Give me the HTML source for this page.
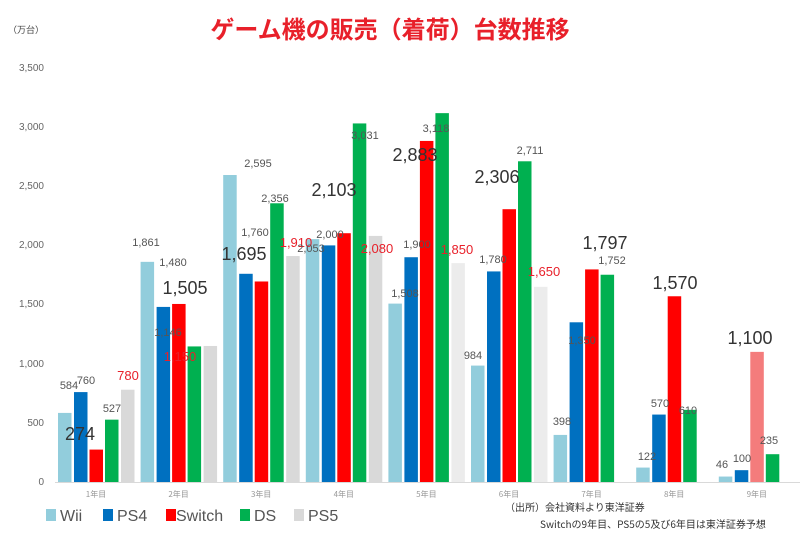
<!DOCTYPE html>
<html><head><meta charset="utf-8"><style>
body{margin:0;background:#fff}
svg{display:block;font-family:"Liberation Sans","Noto Sans CJK JP",sans-serif}
</style></head><body>
<svg id="s" width="800" height="538" viewBox="0 0 800 538" xmlns="http://www.w3.org/2000/svg">
<rect width="800" height="538" fill="#fff"/>
<text x="390" y="38" font-size="24" fill="#e8202a" text-anchor="middle" font-weight="bold" font-family="'Noto Sans CJK JP',sans-serif">ゲーム機の販売（着荷）台数推移</text>
<text x="8" y="33" font-size="9" fill="#444" font-family="'Noto Sans CJK JP',sans-serif">（万台）</text>
<g font-size="10" fill="#666" text-anchor="end">
<text x="44" y="71">3,500</text><text x="44" y="130">3,000</text><text x="44" y="189">2,500</text><text x="44" y="248">2,000</text><text x="44" y="307">1,500</text><text x="44" y="367">1,000</text><text x="44" y="426">500</text><text x="44" y="485">0</text>
</g>
<line x1="55" y1="482.5" x2="800" y2="482.5" stroke="#d9d9d9"/>
<g id="bars"></g>
<g id="lbl"></g>
<g font-size="8" fill="#999" text-anchor="middle" font-family="'Noto Sans CJK JP',sans-serif" id="xl"></g>
<g font-size="16" fill="#555">
<rect x="46" y="509" width="10" height="12" fill="#92cddc"/><text x="60" y="521">Wii</text>
<rect x="103" y="509" width="10" height="12" fill="#0070c0"/><text x="117" y="521">PS4</text>
<rect x="166" y="509" width="10" height="12" fill="#ff0000"/><text x="176" y="521">Switch</text>
<rect x="240" y="509" width="10" height="12" fill="#00b050"/><text x="254" y="521">DS</text>
<rect x="294" y="509" width="10" height="12" fill="#d9d9d9"/><text x="308" y="521">PS5</text>
</g>
<g font-size="10" fill="#333" font-family="'Noto Sans CJK JP',sans-serif">
<text x="505" y="511">（出所）会社資料より東洋証券</text>
<text x="540" y="528">Switchの9年目、PS5の5及び6年目は東洋証券予想</text>
</g>
</svg>
<script>
var ns="http://www.w3.org/2000/svg";
function el(p,t,a,txt){var e=document.createElementNS(ns,t);for(var k in a)e.setAttribute(k,a[k]);if(txt)e.textContent=txt;document.getElementById(p).appendChild(e);}
var data=[[584,760,274,527,780],[1861,1480,1505,1146,1150],[2595,1760,1695,2356,1910],[2053,2000,2103,3031,2080],[1508,1900,2883,3118,1850],[984,1780,2306,2711,1650],[398,1350,1797,1752,null],[122,570,1570,610,null],[46,100,1100,235,null]];
var cols=["#92cddc","#0070c0","#ff0000","#00b050","#d9d9d9"];
var off=[0,16,31.5,47,63];
for(var g=0;g<9;g++){var x0=58+g*82.6;
 for(var i=0;i<5;i++){var v=data[g][i];if(v==null)continue;var h=v*0.1183;
  var c=cols[i];if(g==8&&i==2)c="#f47c7c";if((g==4||g==5)&&i==4)c="#ececec";
  el("bars","rect",{x:x0+off[i],y:482-h,width:13.5,height:h,fill:c});}
 el("xl","text",{x:x0+38,y:497},(g+1)+"年目");}
var L=[["584",69,389,0],["760",86,384,0],["274",80,440,1],["527",112,412,0],["780",128,380,2],
["1,861",146,246,0],["1,480",173,266,0],["1,505",185,294,1],["1,146",168,336,0],["1,150",180,361,2],
["2,595",258,167,0],["1,760",255,236,0],["1,695",244,260,1],["2,356",275,202,0],["1,910",296,247,2],
["2,053",311,252,0],["2,000",330,238,0],["2,103",334,196,1],["3,031",365,139,0],["2,080",377,253,2],
["1,508",405,297,0],["1,900",417,248,0],["2,883",415,161,1],["3,118",436,132,0],["1,850",457,254,2],
["984",473,359,0],["1,780",493,263,0],["2,306",497,183,1],["2,711",530,154,0],["1,650",544,276,2],
["398",562,425,0],["1,350",582,344,0],["1,797",605,249,1],["1,752",612,264,0],
["122",647,460,0],["570",660,407,0],["1,570",675,289,1],["610",688,414,0],
["46",722,468,0],["100",742,462,0],["1,100",750,344,1],["235",769,444,0]];
L.forEach(function(l){var st=[{fs:11,f:"#555"},{fs:18,f:"#333"},{fs:13,f:"#e8202a"}][l[3]];
 el("lbl","text",{x:l[1],y:l[2],"font-size":st.fs,fill:st.f,"text-anchor":"middle"},l[0]);});
</script>
</body></html>
